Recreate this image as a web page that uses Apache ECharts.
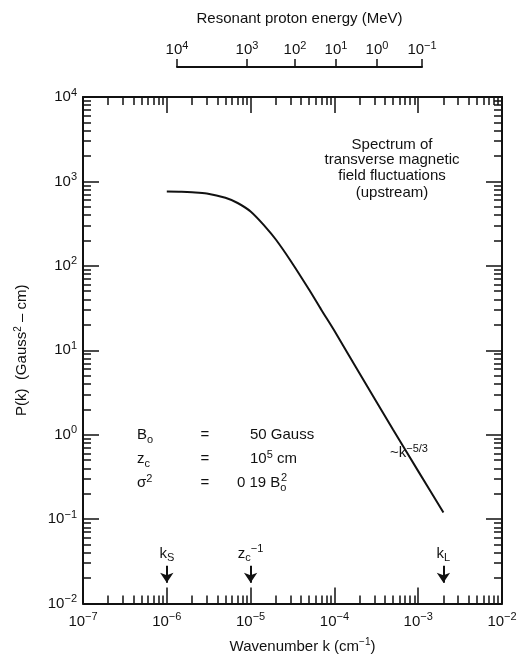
<!DOCTYPE html>
<html>
<head>
<meta charset="utf-8">
<script src="https://cdn.jsdelivr.net/npm/echarts@6/dist/echarts.min.js"></script>
<style>
  html, body { margin: 0; padding: 0; background: #fff; }
  #main { width: 524px; height: 659px; }
</style>
</head>
<body>
<div id="main"></div>
<script>
// spectrum (k in cm^-1, P in Gauss^2 cm)
const kValues = [1e-6, 1.5e-6, 2e-6, 3e-6, 5e-6, 7e-6, 1e-5, 1.5e-5, 2e-5, 3e-5, 5e-5, 7e-5, 1e-4, 2e-4, 5e-4, 1e-3, 2e-3];
const pValues = [760, 755, 745, 720, 640, 555, 440, 290, 205, 115, 52, 30, 17, 5.3, 1.15, 0.37, 0.12];

// top axis: resonant proton energy, ticks sit at these log10(k)
const energyExponents = [4, 3, 2, 1, 0, -1];
const energyTickLogK = [-5.878, -5.043, -4.470, -3.981, -3.492, -2.955];

// arrows on the k axis
const markerK = [1e-6, 1e-5, 2e-3];
const markerLabels = ['{t|k}{sub|S}', '{t|z}{sub|c}{sup|−1}', '{t|k}{sub|L}'];

const FONT = 'Liberation Sans, Arial, sans-serif';
const INK = '#111';

function expText(e) {
  return e < 0 ? '−' + (-e) : String(e);
}
function pow10Label(v) {
  const e = Math.round(Math.log10(v));
  return '{b|10}{s|' + expText(e) + '}';
}
const powRich = {
  b: { fontSize: 15, fontFamily: FONT, color: INK },
  s: { fontSize: 11, fontFamily: FONT, color: INK, padding: [0, 0, 9, 0] }
};

// minor tick positions 2..9 in each decade
function minorTicks(lo, hi) {
  const out = [];
  for (let e = lo; e < hi; e++) {
    for (let m = 2; m <= 9; m++) out.push(m * Math.pow(10, e));
  }
  return out;
}
const kMinor = minorTicks(-7, -2);
const pMinor = minorTicks(-2, 4);

const axisLine = { show: true, lineStyle: { color: INK, width: 2 } };
const noLine = { show: false };

function logX(pos, major, withLabel) {
  return {
    type: 'log', logBase: 10, gridIndex: 0, position: pos,
    min: 1e-7, max: 1e-2,
    axisLine: major ? axisLine : noLine,
    axisTick: major
      ? { show: true, inside: true, length: 16, lineStyle: { color: INK, width: 1.5 } }
      : { show: true, inside: true, length: 8, customValues: kMinor, lineStyle: { color: INK, width: 1.5 } },
    axisLabel: withLabel
      ? { show: true, margin: 8, formatter: pow10Label, rich: powRich }
      : { show: false },
    splitLine: { show: false },
    minorTick: { show: false }
  };
}
function logY(pos, major, withLabel) {
  return {
    type: 'log', logBase: 10, gridIndex: 0, position: pos,
    min: 1e-2, max: 1e4,
    axisLine: major ? axisLine : noLine,
    axisTick: major
      ? { show: true, inside: true, length: 16, lineStyle: { color: INK, width: 1.5 } }
      : { show: true, inside: true, length: 8, customValues: pMinor, lineStyle: { color: INK, width: 1.5 } },
    axisLabel: withLabel
      ? { show: true, margin: 6, formatter: pow10Label, rich: powRich }
      : { show: false },
    splitLine: { show: false },
    minorTick: { show: false }
  };
}

const xMain = logX('bottom', true, true);
xMain.name = 'Wavenumber k (cm{s|−1})';
xMain.nameLocation = 'middle';
xMain.nameGap = 34;
xMain.nameTextStyle = {
  fontSize: 15, fontFamily: FONT, color: INK, padding: [0, 0, 0, 20],
  rich: { s: { fontSize: 10, fontFamily: FONT, color: INK, padding: [0, 0, 8, 0] } }
};

const yMain = logY('left', true, true);
yMain.name = 'P(k)  (Gauss{s|2} – cm)';
yMain.nameLocation = 'middle';
yMain.nameGap = 52;
yMain.nameTextStyle = {
  fontSize: 15, fontFamily: FONT, color: INK,
  rich: { s: { fontSize: 10, fontFamily: FONT, color: INK, padding: [0, 0, 8, 0] } }
};

const energyAxis = {
  type: 'value', gridIndex: 1, position: 'top',
  min: energyTickLogK[0], max: energyTickLogK[energyTickLogK.length - 1],
  axisLine: axisLine,
  axisTick: { show: true, length: 8, customValues: energyTickLogK, lineStyle: { color: INK, width: 1.5 } },
  axisLabel: {
    show: true, margin: 6, customValues: energyTickLogK, rich: powRich,
    formatter: function (v) {
      let i = 0;
      energyTickLogK.forEach((t, j) => { if (Math.abs(t - v) < Math.abs(energyTickLogK[i] - v)) i = j; });
      return '{b|10}{s|' + expText(energyExponents[i]) + '}';
    }
  },
  splitLine: { show: false },
  name: 'Resonant proton energy (MeV)',
  nameLocation: 'middle',
  nameGap: 40,
  nameTextStyle: { fontSize: 15, fontFamily: FONT, color: INK }
};

const curve = kValues.map((k, i) => [k, pValues[i]]);

const arrowTop = 0.028, arrowEnd = 0.0176;
const markData = markerK.map((k, i) => [
  {
    coord: [k, arrowTop],
    label: { formatter: markerLabels[i] }
  },
  { coord: [k, arrowEnd] }
]);

const textRich = {
  t: { fontSize: 15, fontFamily: FONT, color: INK },
  sub: { fontSize: 11, fontFamily: FONT, color: INK, padding: [9, 0, 0, 0] },
  sup: { fontSize: 11, fontFamily: FONT, color: INK, padding: [0, 0, 9, 0] }
};

function txt(x, y, text, align) {
  return {
    type: 'text', x: x, y: y,
    style: {
      text: text, rich: textRich, fill: INK,
      font: '15px ' + FONT,
      align: align || 'left', verticalAlign: 'middle'
    }
  };
}

const option = {
  backgroundColor: '#fff',
  animation: false,
  grid: [
    { left: 83, right: 22, top: 97, bottom: 53, containLabel: false },
    { left: 177, right: 102, top: 66, height: 1, containLabel: false }
  ],
  xAxis: [
    xMain,
    logX('bottom', false, false),
    logX('top', true, false),
    logX('top', false, false),
    energyAxis
  ],
  yAxis: [
    yMain,
    logY('left', false, false),
    logY('right', true, false),
    logY('right', false, false),
    { type: 'value', gridIndex: 1, min: 0, max: 1, show: false }
  ],
  series: [
    {
      type: 'line',
      xAxisIndex: 0, yAxisIndex: 0,
      data: curve,
      showSymbol: false,
      smooth: 0.3,
      lineStyle: { color: INK, width: 2 },
      markLine: {
        silent: true,
        symbol: ['none', 'arrow'],
        symbolSize: 10,
        lineStyle: { color: INK, width: 2, type: 'solid' },
        label: { show: true, position: 'start', distance: 2, rich: textRich },
        data: markData
      }
    }
  ],
  graphic: [
    txt(392, 145, '{t|Spectrum of}', 'center'),
    txt(392, 160, '{t|transverse magnetic}', 'center'),
    txt(392, 176, '{t|field fluctuations}', 'center'),
    txt(392, 193, '{t|(upstream)}', 'center'),
    txt(390, 453, '{t|~k}{sup|−5/3}'),
    txt(137, 435, '{t|B}{sub|o}'),
    txt(205, 435, '{t|=}', 'center'),
    txt(250, 435, '{t|50 Gauss}'),
    txt(137, 459, '{t|z}{sub|c}'),
    txt(205, 459, '{t|=}', 'center'),
    txt(250, 459, '{t|10}{sup|5}{t| cm}'),
    txt(137, 483, '{t|σ}{sup|2}'),
    txt(205, 483, '{t|=}', 'center'),
    txt(237, 483, '{t|0 19 B}{sub|o}'),
    {
      type: 'text', x: 281, y: 478,
      style: { text: '2', fill: INK, font: '11px ' + FONT, align: 'left', verticalAlign: 'middle' }
    }
  ]
};

const chart = echarts.init(document.getElementById('main'));
chart.setOption(option);
</script>
</body>
</html>
